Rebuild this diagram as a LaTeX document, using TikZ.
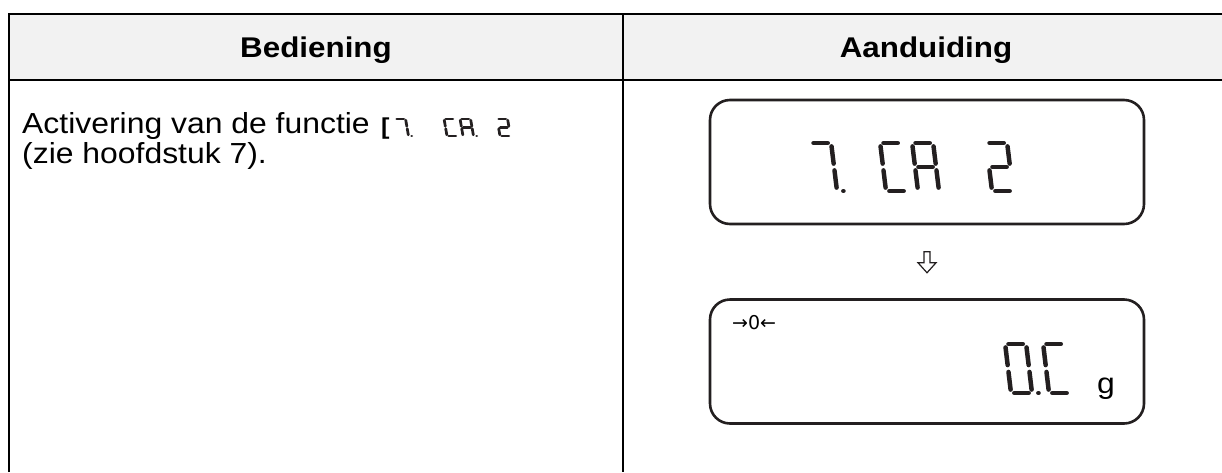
\documentclass[tikz,border=0pt]{standalone}
\usepackage{fontspec}
\setmainfont{Liberation Sans}
\newfontfamily\symbolfont{DejaVu Sans}
\usetikzlibrary{calc}
\definecolor{headfill}{HTML}{F2F2F2}
\definecolor{lcdink}{HTML}{231F20}
\newcommand{\LcdSlant}{0.14}
\newcommand{\LcdChar}[5]{%
\begin{scope}[shift={(#1,#2)}, xscale=#3, yscale=-#4/2, xslant=\LcdSlant]
\foreach \s in {#5} {\draw[lcdseg, line width=1.8+0.055*#4 pt, seg \s];}
\end{scope}}
\tikzset{
  seg a/.style={insert path={(0.16,2) -- (0.84,2)}},
  seg b/.style={insert path={(1,1.86) -- (1,1.14)}},
  seg c/.style={insert path={(1,0.86) -- (1,0.14)}},
  seg d/.style={insert path={(0.16,0) -- (0.84,0)}},
  seg e/.style={insert path={(0,0.86) -- (0,0.14)}},
  seg f/.style={insert path={(0,1.86) -- (0,1.14)}},
  seg g/.style={insert path={(0.16,1) -- (0.84,1)}},
  seg p/.style={insert path={(1.3,0) -- (1.31,0)}}
}

\begin{document}
\begin{tikzpicture}[x=1pt, y=-1pt,
  rule/.style={line width=2pt},
  lcdbox/.style={draw=lcdink, line width=2.6pt, rounded corners=20pt, minimum width=434pt, minimum height=124pt},
  lcdseg/.style={draw=lcdink, line cap=round},
  headtext/.style={font=\fontsize{28.5}{34}\selectfont\bfseries, anchor=base, inner sep=0pt, xscale=1.1, transform shape},
  bodytext/.style={font=\fontsize{29}{34}\selectfont, anchor=base west, inner sep=0pt, xscale=1.1, transform shape}]

\useasboundingbox (0,0) rectangle (1222,472);

\fill[headfill] (9,14) rectangle (1229,80);
\draw[rule] (9,472) -- (9,14) -- (1229,14);
\draw[rule] (9,80) -- (1229,80);
\draw[rule] (623,14) -- (623,472);

\node[headtext] (head1) at (316,57) {Bediening};
\node[headtext] (head2) at (926,57) {Aanduiding};

\node[bodytext] (line1) at (22,133) {Activering van de functie};
\node[bodytext] (line2) at (22,163) {(zie hoofdstuk 7).};
\node[bodytext, font=\fontsize{23}{26}\selectfont\bfseries] (bracket) at (381,134) {[};
\LcdChar{398}{136}{10.5}{17}{a,b,c,p}
\LcdChar{447}{136}{10.5}{17}{a,d,e,f}
\LcdChar{463}{136}{10.5}{17}{a,b,c,e,f,g,p}
\LcdChar{500}{136}{10.5}{17}{a,b,g,e,d}

\node[lcdbox] (display1) at (927,162) {};
\LcdChar{816}{191}{21}{48}{a,b,c,p}
\LcdChar{886}{191}{21}{48}{a,d,e,f}
\LcdChar{918}{191}{21}{48}{a,b,c,e,f,g}
\LcdChar{992}{191}{21}{48}{a,b,g,e,d}

\node[lcdbox] (display2) at (927,361.5) {};
\node[font=\fontsize{19}{22}\selectfont\symbolfont, anchor=base west, inner sep=0pt] (zero) at (732,329) {→0←};
\LcdChar{1011}{393}{21}{49}{a,b,c,d,e,f,p}
\LcdChar{1049}{393}{21}{49}{a,d,e,f}
\node[bodytext] (unit) at (1097,393) {g};

\coordinate (step) at ($(display1.south)!0.5!(display2.north)$);
\draw[lcdink, line width=1.2pt, fill=white] ($(step)+(-3,-10)$) -- ++(6,0) -- ++(0,11) -- ++(6,0) -- ++(-9,10) -- ++(-9,-10) -- ++(6,0) -- cycle;

\end{tikzpicture}
\end{document}
